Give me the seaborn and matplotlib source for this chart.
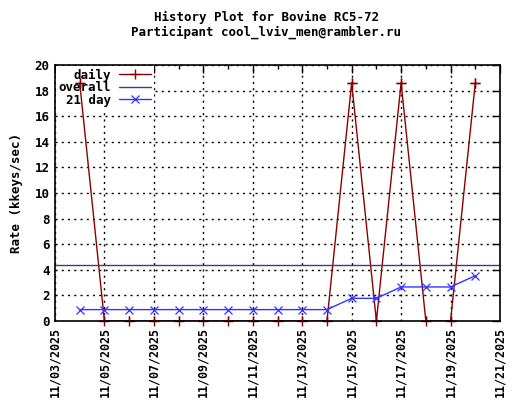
import pandas as pd
import numpy as np
import matplotlib
matplotlib.use('Agg')
import matplotlib.pyplot as plt
import matplotlib.dates as mdates
import seaborn as sns

# values
dates = ["2025-11-04", "2025-11-05", "2025-11-06", "2025-11-07", "2025-11-08",
         "2025-11-09", "2025-11-10", "2025-11-11", "2025-11-12", "2025-11-13",
         "2025-11-14", "2025-11-15", "2025-11-16", "2025-11-17", "2025-11-18",
         "2025-11-19", "2025-11-20"]
daily = [18.6, 0, 0, 0, 0, 0, 0, 0, 0, 0, 0, 18.6, 0, 18.6, 0, 0, 18.6]
avg21 = [0.89, 0.89, 0.89, 0.89, 0.89, 0.89, 0.89, 0.89, 0.89, 0.89, 0.89,
         1.77, 1.77, 2.66, 2.66, 2.66, 3.54]
overall = 4.35

x_start, x_end = "2025-11-03", "2025-11-21"

title = "History Plot for Bovine RC5-72\nParticipant cool_lviv_men@rambler.ru"
ylabel = "Rate (kkeys/sec)"


def main():
    df = pd.DataFrame({"date": pd.to_datetime(dates), "daily": daily, "avg21": avg21})

    sns.set_style("white")
    plt.rcParams['font.family'] = ['DejaVu Sans Mono']
    plt.rcParams['font.weight'] = 'bold'
    plt.rcParams['font.size'] = 9
    plt.rcParams['text.color'] = 'black'
    plt.rcParams['axes.labelcolor'] = 'black'
    plt.rcParams['xtick.color'] = 'black'
    plt.rcParams['ytick.color'] = 'black'

    fig = plt.figure(figsize=(5.2, 4.0), dpi=100)
    ax = fig.add_axes([55 / 520, 1 - 321 / 400, 445 / 520, 256 / 400])

    red = "#8b0000"
    blue = "#3333ff"
    # daily line (clipped), its '+' markers poke out below the axis like gnuplot
    sns.lineplot(data=df, x="date", y="daily", ax=ax, color=red, lw=1.0,
                 marker="+", markersize=7, markeredgewidth=1.0, markeredgecolor=red,
                 label="daily", zorder=2)
    ax.plot(df["date"], df["daily"], ls="none", marker="+", ms=7, mew=1.0,
            color=red, clip_on=False, zorder=2)
    ax.axhline(overall, color="#3a3a9e", lw=1.0, label="overall", zorder=2)
    sns.lineplot(data=df, x="date", y="avg21", ax=ax, color=blue, lw=1.0,
                 marker="x", markersize=6, markeredgewidth=0.9, markeredgecolor=blue,
                 label="21 day", zorder=3)

    ax.set_xlim(pd.Timestamp(x_start), pd.Timestamp(x_end))
    ax.set_ylim(0, 20)
    ax.xaxis.set_major_locator(mdates.DayLocator(bymonthday=range(1, 32, 2)))
    ax.xaxis.set_minor_locator(mdates.DayLocator())
    ax.xaxis.set_major_formatter(mdates.DateFormatter("%m/%d/%Y"))
    ax.set_yticks(np.arange(0, 21, 2))

    ax.tick_params(which="both", direction="in", top=True, right=True,
                   labelsize=8.4, width=1)
    ax.tick_params(which="major", length=6, pad=4)
    ax.tick_params(which="minor", length=3)
    plt.setp(ax.get_xticklabels(), rotation=90, fontweight="bold")
    plt.setp(ax.get_yticklabels(), fontweight="bold", fontsize=9)

    ax.grid(True, which="major", color="black", linestyle=(0, (1.5, 3)), lw=1.0)
    ax.set_axisbelow(True)
    for s in ax.spines.values():
        s.set_color("black")
        s.set_linewidth(1.2)
        s.set_zorder(2.5)

    ax.set_xlabel("")
    ax.set_ylabel(ylabel, fontweight="bold", fontsize=9, labelpad=8)

    leg = ax.legend(loc="upper left", bbox_to_anchor=(0.0, 1.0), markerfirst=False,
                    frameon=True, fancybox=False, edgecolor="none", facecolor="white",
                    framealpha=1, fontsize=9, handlelength=2.6, handletextpad=0.6,
                    labelspacing=-0.05, borderpad=0.2, borderaxespad=0.1)
    leg.set_zorder(1.5)
    for t in leg.get_texts():
        t.set_fontweight("bold")

    fig.text(266 / 520, 1 - 25 / 400, title, ha="center", va="center",
             fontsize=9, fontweight="bold", linespacing=1.2)

    plt.savefig("out.png", dpi=100)
    plt.close(fig)


if __name__ == "__main__":
    main()
